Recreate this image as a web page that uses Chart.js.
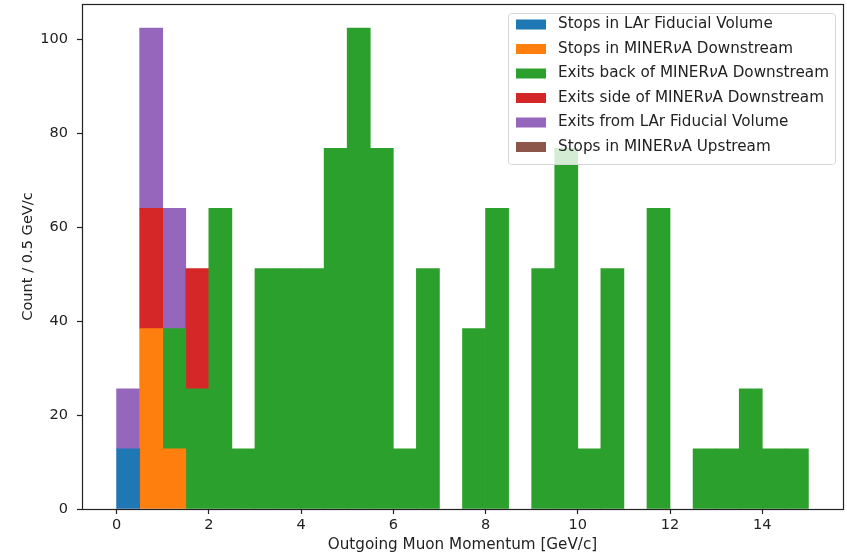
<!DOCTYPE html>
<html>
<head>
<meta charset="utf-8">
<script src="https://cdn.jsdelivr.net/npm/chart.js@4.4.1/dist/chart.umd.min.js"></script>
<style>
  html, body { margin: 0; padding: 0; background: #fff; }
  canvas { display: block; }
</style>
</head>
<body>
<canvas id="hist" width="847" height="556"></canvas>
<script>
// histogram bins, 0.5 GeV/c wide
const binEdges = [0, 0.5, 1, 1.5, 2, 2.5, 3, 3.5, 4, 4.5, 5, 5.5, 6, 6.5, 7, 7.5,
  8, 8.5, 9, 9.5, 10, 10.5, 11, 11.5, 12, 12.5, 13, 13.5, 14, 14.5, 15];

const labels = [
  'Stops in LAr Fiducial Volume',
  'Stops in MINERνA Downstream',
  'Exits back of MINERνA Downstream',
  'Exits side of MINERνA Downstream',
  'Exits from LAr Fiducial Volume',
  'Stops in MINERνA Upstream'
];

// weighted counts per bin for each category
const stopsLArFV = [12.8, 0, 0, 0, 0, 0, 0, 0, 0, 0, 0, 0, 0, 0, 0, 0, 0, 0, 0, 0, 0, 0, 0, 0, 0, 0, 0, 0, 0, 0];
const stopsMinervaDS = [0, 38.4, 12.8, 0, 0, 0, 0, 0, 0, 0, 0, 0, 0, 0, 0, 0, 0, 0, 0, 0, 0, 0, 0, 0, 0, 0, 0, 0, 0, 0];
const exitsBackDS = [0, 0, 25.6, 25.6, 64, 12.8, 51.2, 51.2, 51.2, 76.8, 102.4, 76.8, 12.8, 51.2, 0,
  38.4, 64, 0, 51.2, 76.8, 12.8, 51.2, 0, 64, 0, 12.8, 12.8, 25.6, 12.8, 12.8];
const exitsSideDS = [0, 25.6, 0, 25.6, 0, 0, 0, 0, 0, 0, 0, 0, 0, 0, 0, 0, 0, 0, 0, 0, 0, 0, 0, 0, 0, 0, 0, 0, 0, 0];
const exitsLArFV = [12.8, 38.4, 25.6, 0, 0, 0, 0, 0, 0, 0, 0, 0, 0, 0, 0, 0, 0, 0, 0, 0, 0, 0, 0, 0, 0, 0, 0, 0, 0, 0];
const stopsMinervaUS = [0, 0, 0, 0, 0, 0, 0, 0, 0, 0, 0, 0, 0, 0, 0, 0, 0, 0, 0, 0, 0, 0, 0, 0, 0, 0, 0, 0, 0, 0];

const xTicks = [0, 2, 4, 6, 8, 10, 12, 14];
const yTicks = [0, 20, 40, 60, 80, 100];

const colors = ['#1f77b4', '#ff7f0e', '#2ca02c', '#d62728', '#9467bd', '#8c564b'];
const series = [stopsLArFV, stopsMinervaDS, exitsBackDS, exitsSideDS, exitsLArFV, stopsMinervaUS];

const FONT = "'DejaVu Sans', sans-serif";
const INK = '#222';

const binCenters = binEdges.slice(0, -1).map((e, i) => (e + binEdges[i + 1]) / 2);

const datasets = series.map((vals, k) => ({
  label: labels[k],
  data: vals.map((v, i) => ({ x: binCenters[i], y: v === 0 ? null : v })),
  backgroundColor: colors[k],
  borderWidth: 0,
  barPercentage: 1,
  categoryPercentage: 1
}));

// axes frame on all four sides
const framePlugin = {
  id: 'frame',
  afterDatasetsDraw(chart) {
    const { ctx, chartArea: a } = chart;
    ctx.save();
    ctx.strokeStyle = INK;
    ctx.lineWidth = 1.2;
    ctx.strokeRect(Math.round(a.left) + 0.5, Math.round(a.top) + 0.5,
      Math.round(a.right - a.left), Math.round(a.bottom - a.top));
    ctx.restore();
  }
};

// legend box in the upper right, drawn like a matplotlib legend
const legendPlugin = {
  id: 'boxLegend',
  afterDraw(chart) {
    const ctx = chart.ctx;
    const x0 = 508.5, y0 = 13.5, w = 327, h = 151;
    ctx.save();
    ctx.beginPath();
    ctx.roundRect(x0, y0, w, h, 3);
    ctx.fillStyle = 'rgba(255,255,255,0.8)';
    ctx.fill();
    ctx.strokeStyle = '#d6d6d6';
    ctx.lineWidth = 1;
    ctx.stroke();

    chart.data.datasets.forEach((ds, i) => {
      const cy = 24.5 + i * 24.5;
      ctx.fillStyle = ds.backgroundColor;
      ctx.fillRect(516, cy - 5, 30, 10);

      ctx.fillStyle = INK;
      ctx.textBaseline = 'middle';
      ctx.textAlign = 'left';
      let tx = 558;
      const parts = ds.label.split('ν');
      parts.forEach((p, j) => {
        ctx.font = '15.2px ' + FONT;
        ctx.fillText(p, tx, cy);
        tx += ctx.measureText(p).width;
        if (j < parts.length - 1) {
          ctx.font = 'italic 15.2px ' + FONT;
          ctx.fillText('ν', tx, cy);
          tx += ctx.measureText('ν').width;
        }
      });
    });
    ctx.restore();
  }
};

new Chart(document.getElementById('hist'), {
  type: 'bar',
  data: { datasets: datasets },
  options: {
    responsive: false,
    animation: false,
    layout: { padding: { top: 4, right: 4, left: 0, bottom: 0 } },
    plugins: {
      legend: { display: false },
      tooltip: { enabled: false }
    },
    scales: {
      x: {
        type: 'linear',
        stacked: true,
        offset: false,
        min: -0.75,
        max: 15.75,
        afterBuildTicks: s => { s.ticks = xTicks.map(v => ({ value: v })); },
        afterFit: s => { s.height = 47; s.paddingLeft = 0; s.paddingRight = 0; },
        ticks: { color: INK, font: { family: FONT, size: 14.5 }, padding: 3, maxRotation: 0 },
        grid: { offset: false, drawOnChartArea: false, tickLength: 5, color: INK, tickWidth: 1.2 },
        border: { display: false },
        title: {
          display: true,
          text: 'Outgoing Muon Momentum [GeV/c]',
          color: INK,
          font: { family: FONT, size: 15.2 },
          padding: { top: 0, bottom: 2 }
        }
      },
      y: {
        stacked: true,
        min: 0,
        max: 107.52,
        afterBuildTicks: s => { s.ticks = yTicks.map(v => ({ value: v })); },
        afterFit: s => { s.width = 82; s.paddingTop = 0; s.paddingBottom = 0; },
        ticks: { color: INK, font: { family: FONT, size: 14.5 }, padding: 9 },
        grid: { drawOnChartArea: false, tickLength: 5, color: INK, tickWidth: 1.2 },
        border: { display: false },
        title: {
          display: true,
          text: 'Count / 0.5 GeV/c',
          color: INK,
          font: { family: FONT, size: 14.6 },
          padding: { top: 19, bottom: 0 }
        }
      }
    }
  },
  plugins: [framePlugin, legendPlugin]
});
</script>
</body>
</html>
